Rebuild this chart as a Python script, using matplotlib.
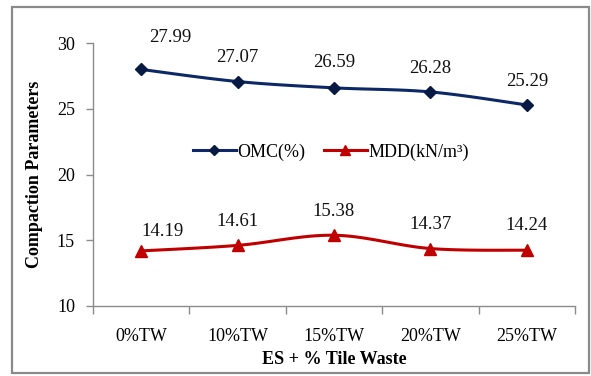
import numpy as np
import matplotlib
matplotlib.use("Agg")
import matplotlib.pyplot as plt
from matplotlib.patches import Rectangle
from matplotlib.lines import Line2D

categories = ["0%TW", "10%TW", "15%TW", "20%TW", "25%TW"]
omc = [27.99, 27.07, 26.59, 26.28, 25.29]
mdd = [14.19, 14.61, 15.38, 14.37, 14.24]
y_ticks = [10, 15, 20, 25, 30]

OMC_COLOR = "#0d2866"
MDD_COLOR = "#c00000"
AXIS_GRAY = "#8c8c8c"

plt.rcParams["font.family"] = ["Liberation Serif", "DejaVu Serif"]

W, H = 591, 376
fig = plt.figure(figsize=(W / 100, H / 100), dpi=100)


def px(x0, y0, x1, y1):
    return [x0 / W, 1 - y1 / H, (x1 - x0) / W, (y1 - y0) / H]


ax = fig.add_axes(px(93, 43, 575, 306))


def smooth(xs, ys, n=30):
    """Cubic Bezier smoothing through the points (Catmull-Rom style)."""
    p = np.column_stack([xs, ys]).astype(float)
    out = [p[0]]
    for i in range(len(p) - 1):
        p0 = p[i - 1] if i > 0 else p[i]
        p3 = p[i + 2] if i + 2 < len(p) else p[i + 1]
        c1 = p[i] + (p[i + 1] - p0) / 6
        c2 = p[i + 1] - (p3 - p[i]) / 6
        t = np.linspace(0, 1, n)[1:, None]
        seg = ((1 - t) ** 3 * p[i] + 3 * (1 - t) ** 2 * t * c1
               + 3 * (1 - t) * t ** 2 * c2 + t ** 3 * p[i + 1])
        out.extend(seg)
    out = np.array(out)
    return out[:, 0], out[:, 1]


x = np.arange(len(categories))

sx, sy = smooth(x, omc)
ax.plot(sx, sy, color=OMC_COLOR, lw=2.2, solid_capstyle="round", zorder=3)
ax.plot(x, omc, ls="none", marker="D", ms=6.5, color="#061a44",
        markeredgecolor="#061a44", zorder=4)

sx, sy = smooth(x, mdd)
ax.plot(sx, sy, color=MDD_COLOR, lw=2.2, solid_capstyle="round", zorder=3)
ax.plot(x, mdd, ls="none", marker="^", ms=8, color=MDD_COLOR, zorder=4)

# value labels above each point (first point's labels sit slightly to the right)
omc_offsets = [(21, 23), (0, 17), (0, 18), (0, 17), (0, 17)]
mdd_offsets = [(15, 14), (0, 17), (0, 17), (0, 17), (0, 18)]
for xi, v, off in zip(x, omc, omc_offsets):
    ax.annotate(f"{v:.2f}", (xi, v), xytext=off, textcoords="offset points",
                ha="center", va="center", fontsize=13.5, color="#111111")
for xi, v, off in zip(x, mdd, mdd_offsets):
    ax.annotate(f"{v:.2f}", (xi, v), xytext=off, textcoords="offset points",
                ha="center", va="center", fontsize=13.5, color="#111111")

ax.set_xlim(-0.5, len(categories) - 0.5)
ax.set_ylim(10, 30)
ax.set_yticks(y_ticks)
ax.set_yticklabels([str(t) for t in y_ticks], fontsize=13)
ax.tick_params(axis="y", length=5, width=1, color=AXIS_GRAY, pad=8)

ax.set_xticks(x)
ax.set_xticklabels(categories, fontsize=13)
ax.set_xticks(np.arange(-0.5, len(categories)), minor=True)
ax.tick_params(axis="x", which="major", length=0, pad=16)
ax.tick_params(axis="x", which="minor", length=6, width=1, color=AXIS_GRAY)

for s in ("top", "right"):
    ax.spines[s].set_visible(False)
for s in ("left", "bottom"):
    ax.spines[s].set_color(AXIS_GRAY)
    ax.spines[s].set_linewidth(1)

ax.set_xlabel("ES + % Tile Waste", fontsize=13, fontweight="bold", labelpad=4)
ax.set_ylabel("Compaction Parameters", fontsize=13, fontweight="bold", labelpad=10)

handles = [
    Line2D([], [], color=OMC_COLOR, lw=2.2, marker="D", ms=5.5,
           markerfacecolor="#061a44", markeredgecolor="#061a44"),
    Line2D([], [], color=MDD_COLOR, lw=2.2, marker="^", ms=7),
]
fig.legend(handles, ["OMC(%)", "MDD(kN/m³)"], loc="center",
           bbox_to_anchor=(331 / W, 1 - 152 / H), ncol=2, frameon=False,
           fontsize=13, handlelength=2.4, handletextpad=0.1, columnspacing=1.0)

fig.patches.append(Rectangle((12 / W, 3 / H), (589 - 12) / W, (371 - 5) / H,
                             transform=fig.transFigure, fill=False,
                             edgecolor="#8a8a8a", lw=1.6))

fig.savefig("out.png", dpi=100)
